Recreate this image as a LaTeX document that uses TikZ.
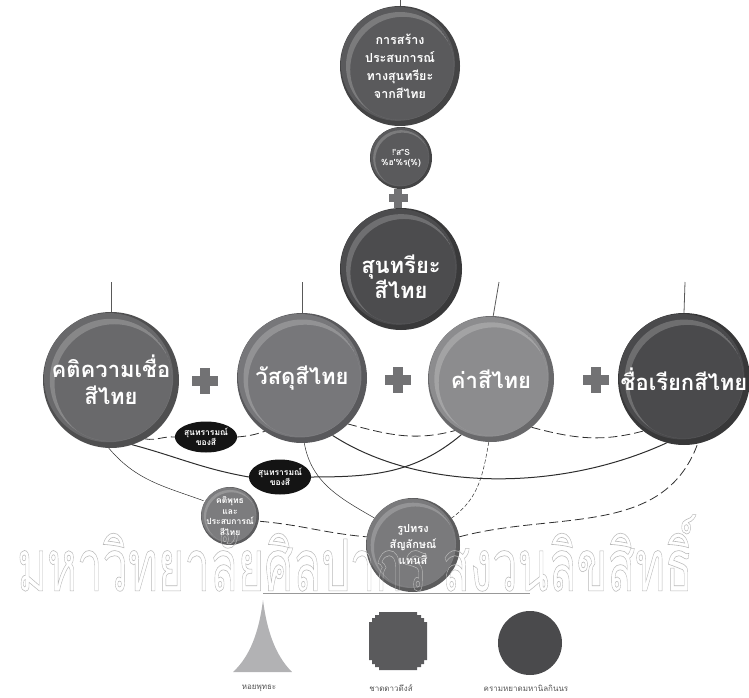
\documentclass[tikz,border=0pt]{standalone}
\usepackage{fontspec}
\usepackage{graphicx}
\newfontfamily\thai[Script=Thai]{Loma}
\usetikzlibrary{shapes.geometric}
\pgfdeclarelayer{bg}
\pgfsetlayers{bg,main}
\definecolor{cTop}{HTML}{5A5A5C}
\definecolor{cSun}{HTML}{4C4C4E}
\definecolor{cKati}{HTML}{69696B}
\definecolor{cVis}{HTML}{77777A}
\definecolor{cKha}{HTML}{8C8C8E}
\definecolor{cChue}{HTML}{4A4A4C}
\definecolor{cKp}{HTML}{7C7C7E}
\definecolor{cRup}{HTML}{7A7A7C}
\definecolor{cPlus}{HTML}{727274}
\definecolor{cLine}{HTML}{2E2E2E}
\definecolor{cTri}{HTML}{B2B2B4}
\definecolor{cOct}{HTML}{5A5A5C}
\definecolor{cCir}{HTML}{4A4A4C}
\definecolor{cLeg}{HTML}{555555}
\newcommand\ballbg[4]{%
  \fill[#4!75!black] (#1,#2) circle[radius=#3];
  \fill[#4] ({#1-0.035*#3},{#2-0.035*#3}) circle[radius={0.95*#3}];
  \begin{scope}
    \clip (#1,#2) circle[radius={0.9*#3}];
    \fill[white,opacity=0.2,even odd rule] (#1,#2) circle[radius={0.9*#3}] ({#1+0.05*#3},{#2+0.06*#3}) circle[radius={0.88*#3}];
  \end{scope}}
\newcommand\plussign[3]{%
  \fill[cPlus] ({#1-#3/2},{#2-#3*0.19}) rectangle ({#1+#3/2},{#2+#3*0.19});
  \fill[cPlus] ({#1-#3*0.19},{#2-#3/2}) rectangle ({#1+#3*0.19},{#2+#3/2});}
\tikzset{
  ballnode/.style={circle,inner sep=0pt,outer sep=0pt,text=white,align=center,font=\thai\bfseries},
  bigtext/.style={font=\thai\bfseries\fontsize{22}{27}\selectfont},
  blackell/.style={ellipse,fill=black!92,inner sep=0pt,outer sep=0pt,text=white,align=center,font=\thai\bfseries\fontsize{8.5}{10}\selectfont},
  dl/.style={draw=cLine,line width=0.8pt,dash pattern=on 9pt off 4pt},
  sl/.style={draw=cLine,line width=1pt},
  tl/.style={draw=cLine,line width=0.5pt},
  hang/.style={draw=gray!70!black,line width=0.8pt},
  legtext/.style={text=cLeg,font=\thai\fontsize{8}{9}\selectfont,inner sep=0pt}
}
\begin{document}
\begin{tikzpicture}[x=1pt,y=-1pt]
\path[use as bounding box] (0,0) rectangle (749,698);
% top circles
\ballbg{400}{66}{60}{cTop}
\node[ballnode,minimum size=120pt,font=\thai\bfseries\fontsize{12.5}{18}\selectfont] (top) at (400,66) {การสร้าง\\ประสบการณ์\\ทางสุนทรียะ\\จากสีไทย};
\coordinate (toptie) at (400,0);
\draw[hang] (toptie) -- (top.north);
\ballbg{401}{158}{31}{cTop}
\node[ballnode,minimum size=62pt,font=\thai\bfseries\fontsize{8.5}{10}\selectfont] (small) at (401,158) {!'ส"S\\\%ฮ'\%ร(\%)};
\plussign{398}{198}{19}
\ballbg{401}{269}{61}{cSun}
\node[ballnode,minimum size=122pt,font=\thai\bfseries\fontsize{22}{22}\selectfont] (sun) at (401,277) {สุนทรียะ\\สีไทย};
% main row
\ballbg{111}{380}{68}{cKati}
\node[ballnode,bigtext,minimum size=136pt] (kati) at (111,380) {คติความเชื่อ\\สีไทย};
\plussign{205}{381}{26}
\ballbg{302}{378}{65}{cVis}
\node[ballnode,bigtext,minimum size=130pt] (vis) at (302,378) {วัสดุสีไทย};
\plussign{398}{380}{26}
\ballbg{491}{379}{63}{cKha}
\node[ballnode,bigtext,minimum size=126pt] (kha) at (491,379) {ค่าสีไทย};
\plussign{596}{380}{26}
\ballbg{684}{379}{66}{cChue}
\node[ballnode,bigtext,minimum size=132pt] (chue) at (684,379) {ชื่อเรียกสีไทย};
\coordinate (t1) at (111,282);
\coordinate (t2) at (302,282);
\coordinate (t3) at (499,282);
\coordinate (t4) at (685,282);
\draw[hang] (t1) -- (kati.north);
\draw[hang] (t2) -- (vis.north);
\draw[hang] (t3) -- (kha.88);
\draw[hang] (t4) -- (chue.north);
% small nodes
\node[blackell,minimum width=48pt,minimum height=31pt] (e1) at (206,437) {สุนทรารมณ์\\ของสี};
\node[blackell,minimum width=50pt,minimum height=35pt] (e2) at (280,477) {สุนทรารมณ์\\ของสี};
\ballbg{230}{516}{29}{cKp}
\node[ballnode,minimum size=58pt,font=\thai\bfseries\fontsize{8.5}{10.5}\selectfont] (kp) at (230,516) {คติพุทธ\\และ\\ประสบการณ์\\สีไทย};
\ballbg{413}{545}{47}{cRup}
\node[ballnode,minimum size=94pt,font=\thai\bfseries\fontsize{11}{16}\selectfont] (rup) at (413,545) {รูปทรง\\สัญลักษณ์\\แทนสี};
% connectors
\begin{pgfonlayer}{bg}
\draw[dl] (kati.-60) to[out=-10,in=175] (e1.west);
\draw[dl] (e1.east) to[out=5,in=-160] (vis.-125);
\draw[dl] (vis.-45) to[out=-15,in=-165] (kha.-125);
\draw[dl] (kha.-50) to[out=-15,in=-165] (chue.-128);
\draw[sl] (kati.-72) to[out=-15,in=170] (e2.west);
\draw[sl] (e2.east) to[out=0,in=-140] (kha.-118);
\draw[sl] (vis.-62) .. controls (420,492) and (560,492) .. (chue.-105);
\draw[tl] (kati.-92) to[out=-50,in=160] (kp.150);
\draw[dl] (kp.-10) to[out=-5,in=175] (rup.170);
\draw[dl] (rup.10) to[out=15,in=-110] (chue.-78);
\draw[tl] (vis.-88) to[out=-80,in=150] (rup.145);
\draw[tl,dash pattern=on 4pt off 2pt] (kha.-92) to[out=-100,in=35] (rup.35);
\end{pgfonlayer}
% legend
\coordinate (lgA) at (263,593);
\coordinate (lgB) at (530,593);
\draw[draw=gray!80,line width=0.8pt] (lgA) -- (lgB);
\fill[cTri] (263,600) .. controls (268,640) and (280,660) .. (292,672) -- (233,672) .. controls (246,660) and (258,640) .. (263,600) -- cycle;
\fill[cOct] (379,612) -- (417,612) -- (417,615) -- (421,615) -- (421,618) -- (424,618) -- (424,622) -- (427,622)
  -- (427,660) -- (424,660) -- (424,664) -- (421,664) -- (421,667) -- (417,667) -- (417,670)
  -- (379,670) -- (379,667) -- (375,667) -- (375,664) -- (372,664) -- (372,660) -- (369,660)
  -- (369,622) -- (372,622) -- (372,618) -- (375,618) -- (375,615) -- (379,615) -- cycle;
\fill[cCir] (530,643) circle[radius=32];
\node[legtext] (l1) at (259,688) {หอยพุทธะ};
\node[legtext] (l2) at (391,688) {ชาดดาวดึงส์};
\node[legtext] (l3) at (526,688) {ครามหยาดมหานิลกินนร};
% watermark
\node[inner sep=0pt,text=gray!55] (wm) at (355,553) {\special{pdf:literal direct 1 Tr 0.6 w}\scalebox{0.63}[1]{\thai\fontsize{72}{72}\selectfont มหาวิทยาลัยศิลปากร สงวนลิขสิทธิ์}\special{pdf:literal direct 0 Tr}};
\end{tikzpicture}
\end{document}
